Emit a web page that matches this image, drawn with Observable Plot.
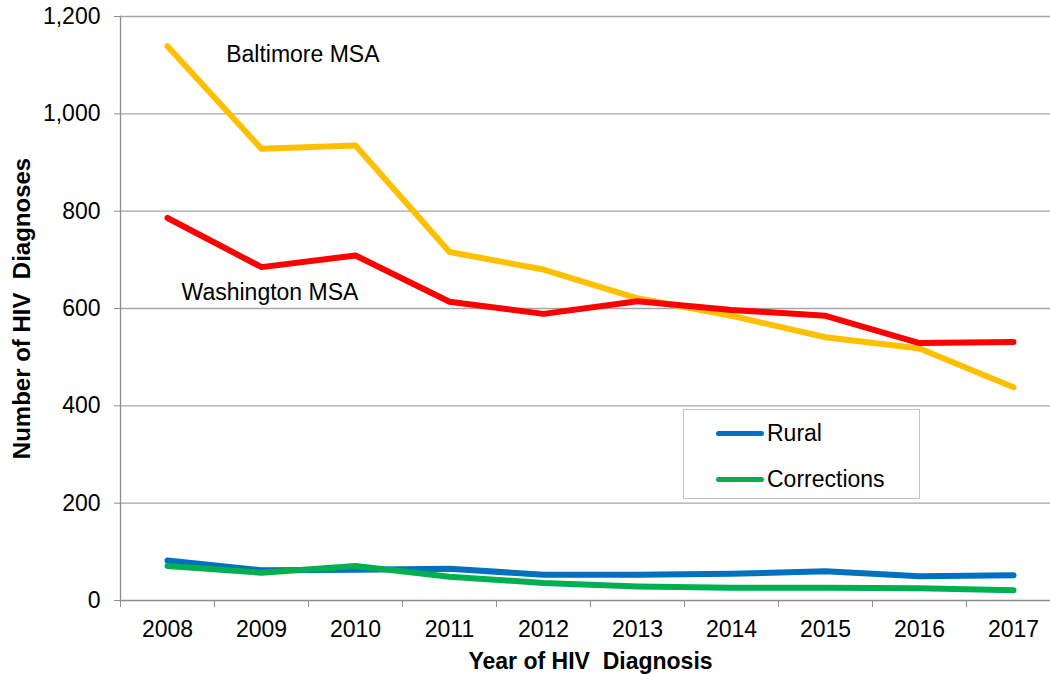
<!DOCTYPE html>
<html>
<head>
<meta charset="utf-8">
<script src="https://cdn.jsdelivr.net/npm/d3@7"></script>
<script src="https://cdn.jsdelivr.net/npm/@observablehq/plot@0.6"></script>
<style>
  html, body { margin: 0; padding: 0; background: #fff; overflow: hidden; }
  #wrap { position: relative; width: 1050px; height: 674px; font-family: Arial, "Liberation Sans", sans-serif; }
  #legend { position: absolute; left: 683px; top: 409px; width: 237px; height: 90px; border: 1px solid #c4c4c4; background: #fff; box-sizing: border-box; }
  .item { position: absolute; left: 32px; height: 26px; display: flex; align-items: center; font-size: 23px; color: #000; }
  .sw { width: 48px; height: 5px; border-radius: 3px; margin-right: 3px; }
</style>
</head>
<body>
<div id="wrap"></div>
<script>
const years = [2008, 2009, 2010, 2011, 2012, 2013, 2014, 2015, 2016, 2017];
const baltimore = [1139, 928, 935, 716, 680, 621, 585, 541, 518, 438];
const washington = [786, 685, 709, 614, 589, 615, 597, 585, 529, 531];
const rural = [82, 62, 63, 65, 53, 53, 55, 60, 50, 52];
const corrections = [71, 57, 71, 49, 36, 29, 26, 26, 25, 21];
const seriesNames = ["Baltimore MSA", "Washington MSA", "Rural", "Corrections"];
const seriesColors = ["#FFC000", "#FF0000", "#0070C0", "#00B050"];
const yTicks = [0, 200, 400, 600, 800, 1000, 1200];
const legendSeries = ["Rural", "Corrections"];
// direct labels anchored in data space (year, value)
const labelNames = ["Baltimore MSA", "Washington MSA"];
const labelYears = [2009.44, 2009.09];
const labelValues = [1122, 633];

const seriesValues = [baltimore, washington, rural, corrections];
const rows = seriesNames.flatMap((s, i) => years.map((yr, j) => ({series: s, year: yr, value: seriesValues[i][j]})));
const labels = labelNames.map((n, i) => ({name: n, year: labelYears[i], value: labelValues[i]}));
const bounds = years.map(y => y - 0.5);

const chart = Plot.plot({
  width: 1050,
  height: 674,
  marginLeft: 120,
  marginRight: 0,
  marginTop: 16,
  marginBottom: 74,
  style: {fontFamily: "Arial, 'Liberation Sans', sans-serif", fontSize: "23px", color: "#000", background: "#fff"},
  x: {domain: [2007.5, 2017.5], range: [120, 1060]},
  y: {domain: [0, 1200]},
  color: {domain: seriesNames, range: seriesColors},
  marks: [
    Plot.gridY(yTicks.filter(d => d > 0), {stroke: "#a6a6a6", strokeOpacity: 1, strokeWidth: 1.4}),
    Plot.frame({anchor: "left", stroke: "#8c8c8c", strokeWidth: 1.3}),
    Plot.frame({anchor: "bottom", stroke: "#8c8c8c", strokeWidth: 1.3}),
    Plot.axisY({ticks: yTicks, tickSize: 6, tickPadding: 14, tickFormat: d3.format(","), stroke: "#8c8c8c", fontSize: 23, label: null}),
    Plot.axisX({ticks: bounds, tickSize: 7, tickFormat: () => "", stroke: "#8c8c8c", label: null}),
    Plot.axisX({ticks: years, tickSize: 0, tickPadding: 20, tickFormat: d => String(d), fontSize: 23, label: null}),
    Plot.line(rows, {x: "year", y: "value", z: "series", stroke: "series", strokeWidth: 6, strokeLinecap: "round", strokeLinejoin: "round"}),
    Plot.text(labels, {x: "year", y: "value", text: "name", fontSize: 23, fill: "#000"}),
    Plot.text(["Number of HIV  Diagnoses"], {frameAnchor: "left", textAnchor: "middle", dx: -98, rotate: -90, fontSize: 24, fontWeight: "bold", fill: "#000"}),
    Plot.text(["Year of HIV  Diagnosis"], {frameAnchor: "bottom", textAnchor: "middle", dx: 5, dy: 52, lineAnchor: "top", fontSize: 23, fontWeight: "bold", fill: "#000"})
  ]
});

const wrap = document.getElementById("wrap");
wrap.appendChild(chart);

const legend = document.createElement("div");
legend.id = "legend";
legendSeries.forEach((s, i) => {
  const item = document.createElement("div");
  item.className = "item";
  item.style.top = (10 + i * 46) + "px";
  const sw = document.createElement("span");
  sw.className = "sw";
  sw.style.background = seriesColors[seriesNames.indexOf(s)];
  const t = document.createElement("span");
  t.textContent = s;
  item.appendChild(sw);
  item.appendChild(t);
  legend.appendChild(item);
});
wrap.appendChild(legend);
</script>
</body>
</html>
